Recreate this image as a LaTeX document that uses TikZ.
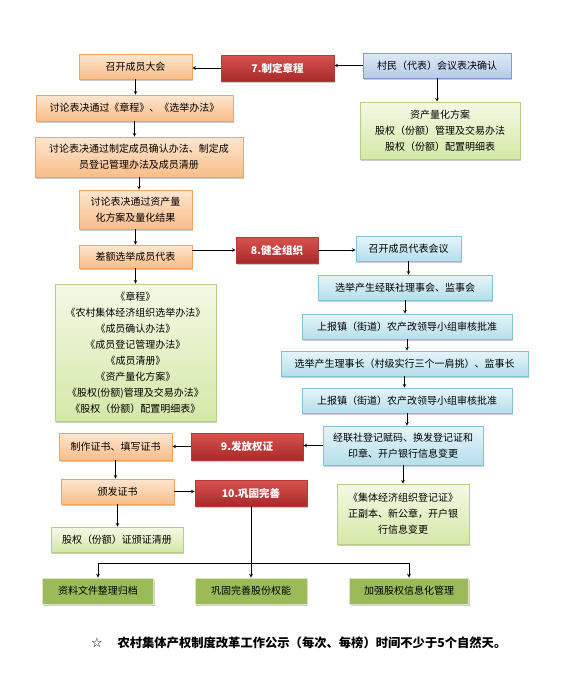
\documentclass[tikz,border=0pt]{standalone}
\usepackage{fontspec}
\setmainfont{Noto Sans CJK SC}
\newfontfamily\symfont{DejaVu Sans}
\usetikzlibrary{shadows}
\definecolor{orline}{HTML}{F5A25D}
\definecolor{ortop}{HTML}{FDE6D0}
\definecolor{orbot}{HTML}{F9BD88}
\definecolor{redtop}{HTML}{D9534F}
\definecolor{redbot}{HTML}{A8292A}
\definecolor{redline}{HTML}{B83A36}
\definecolor{blline}{HTML}{7E9FD3}
\definecolor{bltop}{HTML}{E0EAF7}
\definecolor{blbot}{HTML}{B4CAE8}
\definecolor{cyline}{HTML}{80C2D8}
\definecolor{cytop}{HTML}{E6F5FA}
\definecolor{cybot}{HTML}{B5DEEB}
\definecolor{grline}{HTML}{B5CF85}
\definecolor{grtop}{HTML}{F4F9E5}
\definecolor{grbot}{HTML}{D4E8A8}
\definecolor{olfill}{HTML}{9BBB59}
\definecolor{olline}{HTML}{D9E6BF}
\tikzset{
  box/.style={draw, line width=0.6pt, align=center, inner sep=0pt,
    font=\fontsize{10}{16}\selectfont,
    drop shadow={shadow xshift=1.3pt, shadow yshift=-1.6pt, fill=black!40, opacity=0.5}},
  sz/.style 2 args={minimum width=#1pt, minimum height=#2pt},
  orbox/.style={box, draw=orline, top color=ortop, bottom color=orbot},
  redbox/.style={box, draw=redline, top color=redtop, bottom color=redbot, text=white,
    font=\fontsize{10.5}{14}\selectfont\bfseries},
  blbox/.style={box, draw=blline, top color=bltop, bottom color=blbot},
  cybox/.style={box, draw=cyline, top color=cytop, bottom color=cybot},
  grbox/.style={box, draw=grline, top color=grtop, bottom color=grbot},
  olbox/.style={box, draw=olline, line width=1pt, fill=olfill},
  arr/.style={-stealth, line width=0.7pt}
}
\begin{document}
\begin{tikzpicture}[x=1pt,y=-1pt]
  \useasboundingbox (0,0) rectangle (584,673);
  %colonna sinistra
  \node[orbox, sz={113}{25}] (meet) at (135.5,66.5) {召开成员大会};
  \node[orbox, sz={197}{26}] (vote1) at (134.5,108) {讨论表决通过《章程》、《选举办法》};
  \node[orbox, sz={208}{40}] (vote2) at (139,157) {讨论表决通过制定成员确认办法、制定成\\员登记管理办法及成员清册};
  \node[orbox, sz={113}{39}] (vote3) at (135.5,209.5) {讨论表决通过资产量\\化方案及量化结果};
  \node[orbox, sz={113}{23}] (elect) at (135.5,256.5) {差额选举成员代表};
  \node[grbox, sz={161}{137}] (docs) at (135.5,352.5) {《章程》\\《农村集体经济组织选举办法》\\《成员确认办法》\\《成员登记管理办法》\\《成员清册》\\《资产量化方案》\\《股权(份额)管理及交易办法》\\《股权（份额）配置明细表》};
  \node[orbox, sz={113}{27}] (make) at (115.5,446.5) {制作证书、填写证书};
  \node[orbox, sz={113}{25}] (issue) at (117.5,491.5) {颁发证书};
  \node[grbox, sz={132}{25}] (roster) at (117,539.5) {股权（份额）证颁证清册};
  %passi
  \node[redbox, sz={113}{26}] (s7) at (277.5,68) {7.制定章程};
  \node[redbox, sz={82}{26}] (s8) at (277,250) {8.健全组织};
  \node[redbox, sz={112}{27}] (s9) at (247,446.5) {9.发放权证};
  \node[redbox, sz={112}{26}] (s10) at (251,493) {10.巩固完善};
  %colonna destra
  \node[blbox, sz={148}{25}] (village) at (437,65.5) {村民（代表）会议表决确认};
  \node[grbox, sz={160}{57}] (plan) at (440,130.5) {资产量化方案\\股权（份额）管理及交易办法\\股权（份额）配置明细表};
  \node[cybox, sz={105}{25}] (rep) at (408.5,248.5) {召开成员代表会议};
  \node[cybox, sz={174}{25}] (board) at (405,287.5) {选举产生经联社理事会、监事会};
  \node[cybox, sz={210}{25}] (report1) at (407,326.5) {上报镇（街道）农产改领导小组审核批准};
  \node[cybox, sz={247}{25}] (chair) at (404.5,363.5) {选举产生理事长（村级实行三个一肩挑）、监事长};
  \node[cybox, sz={210}{25}] (report2) at (407,400.5) {上报镇（街道）农产改领导小组审核批准};
  \node[cybox, sz={160}{39}] (register) at (403,445.5) {经联社登记赋码、换发登记证和\\印章、开户银行信息变更};
  \node[grbox, sz={132}{60}] (cert) at (403,514) {《集体经济组织登记证》\\正副本、新公章，开户银\\行信息变更};
  %in fondo
  \node[olbox, sz={111}{26}] (archive) at (98,591) {资料文件整理归档};
  \node[olbox, sz={112}{26}] (power) at (251,591) {巩固完善股份权能};
  \node[olbox, sz={119}{26}] (info) at (409,591) {加强股权信息化管理};
  \coordinate (split) at (251,563);
  \node[font=\symfont\bfseries\fontsize{13}{14}\selectfont] (star) at (97,643) {☆};
  \node[anchor=west, font=\fontsize{12.3}{14}\selectfont\bfseries] (note) at (114,643) {农村集体产权制度改革工作公示（每次、每榜）时间不少于5个自然天。};
  %frecce
  \foreach \a/\b in {meet/vote1, vote1/vote2, vote2/vote3, vote3/elect, elect/docs,
      make/issue, issue/roster, village/plan, rep/board, board/report1,
      report1/chair, chair/report2, report2/register, register/cert}
    \draw[arr] (\a) -- (\a |- \b.north);
  \draw[arr] (village) -- (village -| s7.east);
  \draw[arr] (s7) -- (s7 -| meet.east);
  \draw[arr] (s8.west -| elect.east) -- (s8.west);
  \draw[arr] (s8) -- (s8 -| rep.west);
  \draw[arr] (register) -- (register -| s9.east);
  \draw[arr] (s9) -- (s9 -| make.east);
  \draw[arr] (issue) -- (issue -| s10.west);
  \draw[arr] (s10) -- (power);
  \draw[arr] (split) -| (archive);
  \draw[arr] (split) -| (info);
\end{tikzpicture}
\end{document}
